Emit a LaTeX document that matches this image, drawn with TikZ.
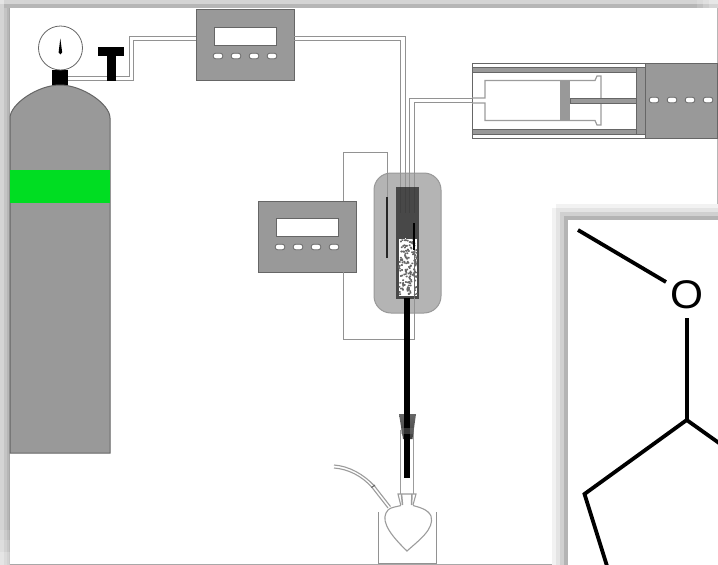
\documentclass[tikz,border=0pt]{standalone}
\usepackage{fontspec}
\setmainfont{Liberation Sans}
\definecolor{unit}{HTML}{999999}
\definecolor{unitline}{HTML}{666666}
\definecolor{tube}{HTML}{929292}
\definecolor{glass}{HTML}{9C9C9C}
\definecolor{reactor}{HTML}{B4B4B4}
\definecolor{cell}{HTML}{484848}
\definecolor{band}{HTML}{00DD22}
\definecolor{fA}{HTML}{D4D4D4}
\definecolor{fB}{HTML}{C4C4C4}
\definecolor{fC}{HTML}{B6B6B6}
\definecolor{fD}{HTML}{A8A8A8}
\definecolor{gA}{HTML}{F2F2F2}
\definecolor{gB}{HTML}{E4E4E4}
\definecolor{gC}{HTML}{D0D0D0}
\definecolor{gD}{HTML}{B4B4B4}
\tikzset{
  unitbox/.style={draw=unitline,fill=unit,line width=1pt,minimum width=98pt,minimum height=71pt,inner sep=0pt,outer sep=0pt,anchor=north west},
  screenbox/.style={draw=unitline,fill=white,line width=1pt,minimum width=62pt,minimum height=18pt,inner sep=0pt,outer sep=0pt},
  btn/.style={draw=unitline,fill=white,line width=.8pt,rounded corners=2.4pt,minimum width=9.5pt,minimum height=5.5pt,inner sep=0pt,outer sep=0pt},
  tubeline/.style={draw=tube,line width=1pt},
  glassline/.style={draw=glass,line width=1.1pt},
  blackpart/.style={fill=black,draw=none},
  bond/.style={draw=black,line width=3.8pt},
  railbar/.style={fill=unit,draw=unitline,line width=.8pt}
}
\begin{document}
\begin{tikzpicture}[x=1pt,y=-1pt]
\useasboundingbox (0,0) rectangle (718,565);
\fill[white] (0,0) rectangle (718,565);
% outer frame
\fill[fA] (0,0) rectangle (718,4);
\fill[fC] (0,4) rectangle (718,8);
\fill[white,opacity=.15] (697,0) rectangle (703,8);
\fill[white,opacity=.3] (703,0) rectangle (709,8);
\fill[white,opacity=.45] (709,0) rectangle (718,8);
\fill[fA] (0,4) rectangle (3.5,565);
\fill[fB] (3.5,8) rectangle (6.5,565);
\fill[fC] (6.5,8) rectangle (9,565);
\fill[fD] (9,8) rectangle (10,565);
\fill[white,opacity=.12] (0,530) rectangle (10,540);
\fill[white,opacity=.25] (0,540) rectangle (10,552);
\fill[white,opacity=.4] (0,552) rectangle (10,565);
\fill[gB] (0,0) rectangle (4,4);
\fill[white] (10,8) rectangle (716.5,563.5);
\fill[fC] (716.5,8) rectangle (718,565);
\fill[fD] (10,563.5) rectangle (718,565);
% gas cylinder
\coordinate (regA) at (68,76);
\coordinate (regB) at (68,80);
\node[unitbox] (ctrlA) at (196,9) {};
\draw[tubeline] (regA) -- (129,76) -- (129,36) -- (196,36);
\draw[tubeline] (regB) -- (133,80) -- (133,40) -- (196,40);
\fill[blackpart] (52,70) rectangle (68,90);
\draw[draw=unitline,fill=unit,line width=1pt] (10,453) -- (10,118) .. controls (10,104) and (38,85) .. (60,85) .. controls (82,85) and (110,104) .. (110,118) -- (110,453) -- cycle;
\fill[band] (10,170) rectangle (110,203);
\node[draw=unitline,fill=white,circle,line width=.8pt,minimum size=44pt,inner sep=0pt] (gauge) at (60.5,48) {};
\fill[black] (60.3,38.5) -- (62.2,52.5) .. controls (62.2,55) and (58.6,55) .. (58.6,52.5) -- cycle;
\fill[blackpart] (98,47) rectangle (124,55.5);
\fill[blackpart] (107,55) rectangle (115.5,80.5);
% controller A contents
\node[screenbox] (screenA) at (245,36) {};
\foreach \bx in {218,236,254,272} \node[btn] at (\bx,56) {};
% reactor
\draw[draw=unit,fill=reactor,line width=1pt,rounded corners=17pt] (374,173) rectangle (441,313);
\fill[cell] (396,187) rectangle (419,298.5);
% packing
\fill[white] (398.5,238) rectangle (417,295.5);
\pgfmathsetseed{4217}
\foreach \i in {1,...,150}{
  \pgfmathsetmacro{\px}{398+rnd*18}
  \pgfmathsetmacro{\py}{238+rnd*56}
  \fill[black!60,rounded corners=.5pt] (\px,\py) rectangle ++(1.9,1.7);
}
\foreach \i in {1,...,12}{
  \pgfmathsetmacro{\px}{398+rnd*18}
  \fill[cell] (\px,236) rectangle ++(2.6,3.4);
}
% connection to controller B
\coordinate (pumpA) at (485,98);
\coordinate (pumpB) at (485,102.7);
\draw[tubeline] (294,36) -- (405.5,36) -- (405.5,187);
\draw[tubeline] (294,40) -- (400.8,40) -- (400.8,187);
\draw[tubeline] (pumpA) -- (409.4,98) -- (409.4,187);
\draw[tubeline] (pumpB) -- (414.2,102.7) -- (414.2,187);
\draw[draw=black!75,line width=1pt] (400.8,187) -- (400.8,213);
\draw[draw=black!75,line width=1pt] (405.5,187) -- (405.5,213);
\draw[draw=black!75,line width=1pt] (409.4,187) -- (409.4,213);
\draw[draw=black!75,line width=1pt] (414.2,187) -- (414.2,213);
% temperature controller and wires
\node[unitbox] (ctrlC) at (258,201) {};
\draw[tubeline] (343,201) -- (343,152) -- (387,152) -- (387,197);
\draw[tubeline] (343,272) -- (343,339) -- (414,339) -- (414,298);
\draw[draw=black!85,line width=1.1pt] (387,197) -- (387,258);
\draw[draw=black,line width=1.1pt] (414,223) -- (414,250);
\draw[draw=unit!70!black,line width=.9pt] (414,250) -- (414,298);
\node[screenbox] (screenC) at (307,227) {};
\foreach \bx in {280,298,316,334} \node[btn] at (\bx,247) {};
% outlet tube and stopper
\draw[glassline] (400.7,430) -- (400.7,494);
\draw[glassline] (413.7,430) -- (413.7,494);
\shade[top color=black!60,bottom color=black!75] (399,414) -- (416,414) -- (412.5,439) -- (403,439) -- cycle;
\fill[black] (404.2,298) rectangle (410.4,478);
\fill[black!55,opacity=.45] (401,428) rectangle (414,434);
% receiver flask
\draw[glassline] (400.7,505) -- (398,494) -- (416,494) -- (413,505);
\draw[glassline,line width=1.5pt] (401.5,494) -- (402.5,505) (412,494) -- (411.5,505);
\draw[glassline] (401,505.5) .. controls (396,507) and (391,507) .. (388,510) .. controls (381,518) and (385,530) .. (407,551) .. controls (418,541) and (435,529) .. (431,516) .. controls (428,509) and (418,507) .. (413,505.5);
\draw[glassline] (388,508) -- (372,487.5) .. controls (362,476) and (348,469) .. (334,468);
\draw[glassline] (390.5,506.5) -- (374.5,486) .. controls (364,474.5) and (349,466) .. (334,465);
\draw[draw=unitline,line width=1pt] (371.5,487.5) -- (375,485);
\draw[tubeline] (378.5,512) -- (378.5,563.5) -- (436,563.5) -- (436,512);
% syringe pump
\draw[draw=unitline,line width=1pt,fill=white] (472,63) rectangle (645,138);
\draw[railbar] (472,67) rectangle (636,72);
\draw[railbar] (472,129) rectangle (636,134);
\draw[railbar] (636,67) rectangle (645,134);
\draw[glassline,line width=1.2pt] (472,98) -- (485,98) -- (485,80.5) -- (595,80.5) -- (597,76) -- (601,76) -- (601,125) -- (597,125) -- (595,120.5) -- (485,120.5) -- (485,103) -- (472,103);
\fill[unit] (560,80.5) rectangle (570,120.5);
\fill[draw=unitline,fill=unit,line width=.6pt] (570,98) rectangle (636,103);
\node[unitbox,minimum width=72pt,minimum height=75pt] (ctrlB) at (645,63) {};
\foreach \bx in {654,672,690,708} \node[btn] at (\bx,100) {};
% inset panel
\fill[gA] (556,204) rectangle (718,208);
\fill[gB] (553,208) rectangle (718,212);
\fill[gC] (557,212) rectangle (718,216);
\fill[gD] (561,216) rectangle (718,220);
\fill[gA] (552,208) rectangle (556,565);
\fill[gB] (556,212) rectangle (560,565);
\fill[gC] (560,216) rectangle (564,565);
\fill[gD] (564,220) rectangle (568,565);
\fill[white] (568,220) rectangle (718,565);
\coordinate (m1) at (578,230);
\coordinate (m2) at (666,282);
\coordinate (m3) at (686.7,318);
\coordinate (m4) at (686.7,420);
\coordinate (m5) at (584.5,494);
\coordinate (m6) at (607,566);
\coordinate (m7) at (719,443);
\node[font=\fontsize{40}{40}\selectfont,inner sep=0pt] (oxy) at (686.5,294.5) {\scalebox{1.06}[1]{O}};
\draw[bond] (m1) -- (m2);
\draw[bond] (m3) -- (m4);
\draw[bond,line join=miter] (m7) -- (m4) -- (m5) -- (m6);
\end{tikzpicture}
\end{document}
